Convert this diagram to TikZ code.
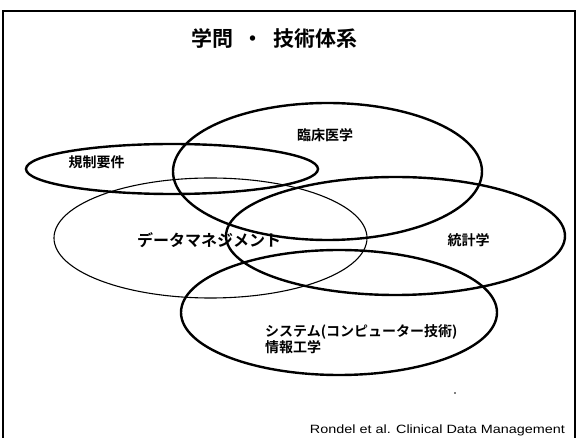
\documentclass[tikz,border=0pt]{standalone}
\usepackage{fontspec}
\setmainfont{Liberation Sans}
\newfontfamily\jpfont{Noto Sans CJK JP}
\newfontfamily\jpbold{Noto Sans CJK JP Bold}
\begin{document}
\begin{tikzpicture}[x=1pt,y=-1pt,
  thickring/.style={draw=black,line width=2.4pt},
  thinring/.style={draw=black,line width=1.1pt},
  jplabel/.style={inner sep=0pt,font=\jpbold\fontsize{14}{15}\selectfont},
]
\useasboundingbox (0,0) rectangle (579,438);
\fill[white] (0,0) rectangle (579,438);
% frame
\draw[line width=2pt] (3,460) -- (3,11) -- (575,11) -- (575,460);
% ellipses
\draw[thickring] (327.5,171.5) ellipse [x radius=154.5pt, y radius=68.5pt];
\draw[thickring] (172,169) ellipse [x radius=146pt, y radius=25pt];
\draw[thinring]  (210.5,238) ellipse [x radius=156.5pt, y radius=60pt];
\draw[thickring] (395.5,236) ellipse [x radius=169.5pt, y radius=59pt];
\draw[thickring] (339,312.5) ellipse [x radius=158pt, y radius=62.5pt];
% labels
\node[inner sep=0pt,font=\jpbold\fontsize{21}{23}\selectfont] (title) at (274.5,38) {学問\hspace{10pt}・\hspace{10pt}技術体系};
\node[jplabel] (rinsho) at (325,135) {臨床医学};
\node[jplabel] (kisei) at (96.5,162) {規制要件};
\node[inner sep=0pt,font=\jpbold\fontsize{16}{18}\selectfont] (dm) at (209,240) {データマネジメント};
\node[jplabel] (toukei) at (468.5,240) {統計学};
\node[jplabel,anchor=west] (sys) at (265,332) {システム(コンピューター技術)};
\node[jplabel,anchor=west] (joho) at (265,347) {情報工学};
\node[inner sep=0pt,font=\fontsize{12}{14}\selectfont] (src) at (437.5,430) {\scalebox{1.2}[1]{Rondel et al. Clinical Data Management}};
\fill (455,393) circle (0.8pt);
\end{tikzpicture}
\end{document}
